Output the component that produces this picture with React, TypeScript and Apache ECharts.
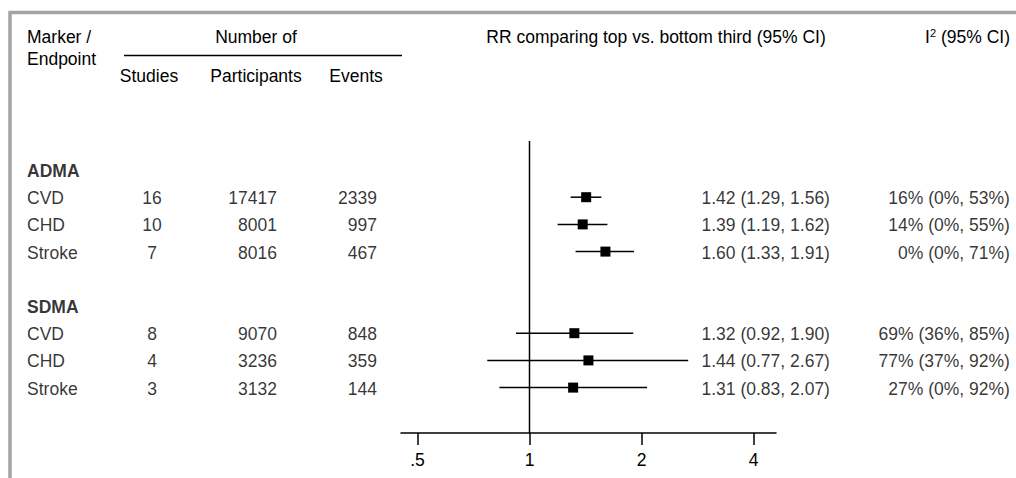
import React, { useEffect, useRef } from "react";
import * as echarts from "echarts";

// ---------- data ----------
const markerNames = ["ADMA", "SDMA"];
const markerRows = [0, 5];
const endpoints = ["CVD", "CHD", "Stroke", "CVD", "CHD", "Stroke"];
const endpointRows = [1, 2, 3, 6, 7, 8];
const studies = [16, 10, 7, 8, 4, 3];
const participants = [17417, 8001, 8016, 9070, 3236, 3132];
const events = [2339, 997, 467, 848, 359, 144];
const rr = [1.42, 1.39, 1.6, 1.32, 1.44, 1.31];
const rrLow = [1.29, 1.19, 1.33, 0.92, 0.77, 0.83];
const rrHigh = [1.56, 1.62, 1.91, 1.9, 2.67, 2.07];
const i2 = [16, 14, 0, 69, 77, 27];
const i2Low = [0, 0, 0, 36, 37, 0];
const i2High = [53, 55, 71, 85, 92, 92];
const tickValues = [0.5, 1, 2, 4];
const tickLabels = [".5", "1", "2", "4"];

// ---------- layout ----------
const FONT = "'Liberation Sans', Arial, Helvetica, sans-serif";
const FS = 17.5;
const X_MIN = -1.1473; // log2 scale extent
const X_MAX = 2.2009;
const Y_MIN = -1.066;
const Y_MAX = 9.669;
const GRID_TOP = 141;
const GRID_H = 292;

const COL_LABEL = 27;
const COL_STUDIES = 152;
const COL_PART = 277;
const COL_EVENTS = 377;
const COL_RR = 830;
const COL_I2 = 1010;

const log2 = (v: number) => Math.log2(v);

function textSeries(data: { value: number[]; name: string }[], align: "left" | "right" | "center", bold = false) {
  return {
    type: "scatter",
    xAxisIndex: 1,
    yAxisIndex: 1,
    symbolSize: 0.1,
    silent: true,
    clip: false,
    itemStyle: { color: "transparent" },
    data,
    label: {
      show: true,
      position: align === "left" ? "right" : align === "right" ? "left" : "inside",
      distance: 0,
      offset: [0, 1],
      formatter: "{b}",
      color: "#000",
      fontSize: FS,
      fontFamily: FONT,
      fontWeight: bold ? "bold" : "normal",
    },
  };
}

export default function App() {
  const ref = useRef<HTMLDivElement>(null);

  useEffect(() => {
    if (!ref.current) return;
    const chart = echarts.init(ref.current, null, { renderer: "svg" });

    const tickLog = tickValues.map(log2);

    const labelData = endpoints.map((e, i) => ({ value: [COL_LABEL, endpointRows[i]], name: e }));
    const headerData = markerNames.map((m, i) => ({ value: [COL_LABEL, markerRows[i]], name: m }));
    const studiesData = studies.map((v, i) => ({ value: [COL_STUDIES, endpointRows[i]], name: String(v) }));
    const partData = participants.map((v, i) => ({ value: [COL_PART, endpointRows[i]], name: String(v) }));
    const eventsData = events.map((v, i) => ({ value: [COL_EVENTS, endpointRows[i]], name: String(v) }));
    const rrData = rr.map((v, i) => ({
      value: [COL_RR, endpointRows[i]],
      name: `${v.toFixed(2)} (${rrLow[i].toFixed(2)}, ${rrHigh[i].toFixed(2)})`,
    }));
    const i2Data = i2.map((v, i) => ({
      value: [COL_I2, endpointRows[i]],
      name: `${v}% (${i2Low[i]}%, ${i2High[i]}%)`,
    }));

    const forestData = rr.map((v, i) => [log2(v), endpointRows[i], log2(rrLow[i]), log2(rrHigh[i])]);

    const option: any = {
      animation: false,
      backgroundColor: "#fff",
      grid: [
        { left: 401, width: 375, top: GRID_TOP, height: GRID_H },
        { left: 0, right: 0, top: GRID_TOP, height: GRID_H },
      ],
      xAxis: [
        {
          gridIndex: 0,
          type: "value",
          min: X_MIN,
          max: X_MAX,
          splitLine: { show: false },
          axisLine: { show: true, onZero: false, lineStyle: { color: "#000", width: 1.5 } },
          axisTick: {
            show: true,
            inside: false,
            length: 12,
            customValues: tickLog,
            lineStyle: { color: "#000", width: 1.5 },
          },
          axisLabel: {
            show: true,
            customValues: tickLog,
            margin: 18,
            color: "#000",
            fontSize: FS,
            fontFamily: FONT,
            formatter: (v: number) => {
              const idx = tickLog.findIndex((t) => Math.abs(t - v) < 1e-6);
              return idx >= 0 ? tickLabels[idx] : "";
            },
          },
        },
        { gridIndex: 1, type: "value", min: 0, max: 1016, show: false },
      ],
      yAxis: [
        { gridIndex: 0, type: "value", min: Y_MIN, max: Y_MAX, inverse: true, show: false },
        { gridIndex: 1, type: "value", min: Y_MIN, max: Y_MAX, inverse: true, show: false },
      ],
      series: [
        {
          type: "line",
          xAxisIndex: 0,
          yAxisIndex: 0,
          symbol: "none",
          silent: true,
          data: [
            [0, Y_MIN],
            [0, Y_MAX],
          ],
          lineStyle: { color: "#000", width: 1.5 },
        },
        {
          type: "custom",
          xAxisIndex: 0,
          yAxisIndex: 0,
          silent: true,
          data: forestData,
          encode: { x: [0, 2, 3], y: 1 },
          renderItem: (params: any, api: any) => {
            const y = api.value(1);
            const c = api.coord([api.value(0), y]);
            const a = api.coord([api.value(2), y]);
            const b = api.coord([api.value(3), y]);
            return {
              type: "group",
              children: [
                {
                  type: "line",
                  shape: { x1: a[0], y1: a[1], x2: b[0], y2: b[1] },
                  style: { stroke: "#000", lineWidth: 1.5 },
                },
                {
                  type: "rect",
                  shape: { x: c[0] - 5, y: c[1] - 5, width: 10, height: 10 },
                  style: { fill: "#000" },
                },
              ],
            };
          },
        },
        textSeries(headerData, "left", true),
        textSeries(labelData, "left"),
        textSeries(studiesData, "center"),
        textSeries(partData, "right"),
        textSeries(eventsData, "right"),
        textSeries(rrData, "right"),
        textSeries(i2Data, "right"),
      ],
      graphic: [
        {
          type: "rect",
          silent: true,
          shape: { x: 10, y: 12.5, width: 1100, height: 600 },
          style: { fill: "none", stroke: "#a3a3a3", lineWidth: 3.5 },
        },
        {
          type: "line",
          silent: true,
          shape: { x1: 124, y1: 55.5, x2: 402, y2: 55.5 },
          style: { stroke: "#000", lineWidth: 1.5 },
        },
        ...[
          { x: 27, y: 37, t: "Marker /", a: "left" },
          { x: 27, y: 59, t: "Endpoint", a: "left" },
          { x: 256, y: 37, t: "Number of", a: "center" },
          { x: 149, y: 76, t: "Studies", a: "center" },
          { x: 256, y: 76, t: "Participants", a: "center" },
          { x: 356, y: 76, t: "Events", a: "center" },
          { x: 656, y: 37, t: "RR comparing top vs. bottom third (95% CI)", a: "center" },
        ].map((h) => ({
          type: "text",
          silent: true,
          x: h.x,
          y: h.y,
          style: {
            text: h.t,
            fill: "#000",
            fontSize: FS,
            fontFamily: FONT,
            align: h.a,
            verticalAlign: "middle",
          },
        })),
        {
          type: "text",
          silent: true,
          x: COL_I2,
          y: 37,
          style: {
            text: "I{sup|2} (95% CI)",
            fill: "#000",
            fontSize: FS,
            fontFamily: FONT,
            align: "right",
            verticalAlign: "middle",
            lineHeight: 20,
            rich: {
              sup: { fontSize: 11, fontFamily: FONT, fill: "#000", verticalAlign: "top", lineHeight: 11 },
            },
          },
        },
      ],
    };

    chart.setOption(option);
    return () => chart.dispose();
  }, []);

  return (
    <div
      ref={ref}
      style={{ position: "fixed", left: 0, top: 0, width: 1016, height: 478, background: "#fff" }}
    />
  );
}
